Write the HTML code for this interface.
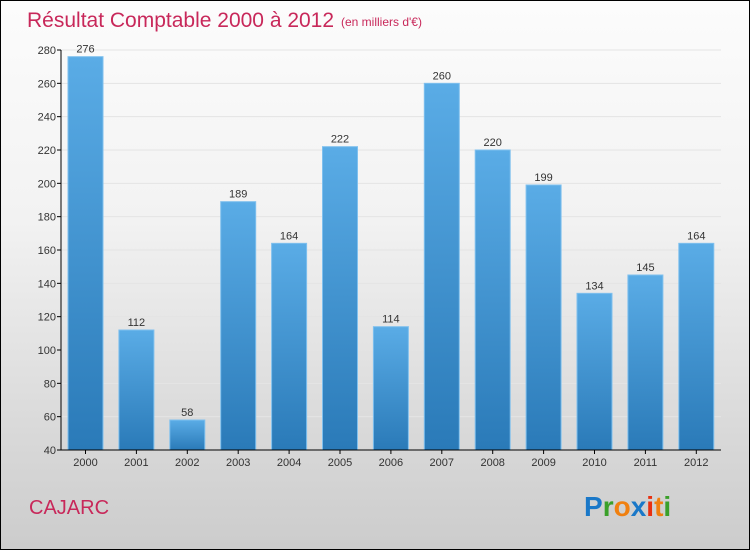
<!DOCTYPE html>
<html><head><meta charset="utf-8"><style>
html,body{margin:0;padding:0}
body{width:750px;height:550px;overflow:hidden;font-family:"Liberation Sans",sans-serif}
#c{position:relative;width:748px;height:548px;border:1px solid #000;background:linear-gradient(#fcfcfc 0%,#f2f2f2 40%,#d8d8d8 80%,#cccccc 100%)}
</style></head><body>
<div id="c">
<svg id="s" width="748" height="548" xmlns="http://www.w3.org/2000/svg">
<defs><linearGradient id="g" x1="0" y1="0" x2="0" y2="1"><stop offset="0" stop-color="#5aace6"/><stop offset="1" stop-color="#2a7ab8"/></linearGradient></defs>
<text x="26" y="26" font-size="21" fill="#c8285a">Résultat Comptable 2000 à 2012</text>
<text x="340" y="25" font-size="12" fill="#c8285a">(en milliers d'€)</text>
<text x="28" y="513" font-size="20" fill="#c8285a">CAJARC</text>
<g font-size="28" font-weight="bold">
<text x="583" y="515"><tspan fill="#1a78c8">P</tspan><tspan fill="#3aa02a">r</tspan><tspan fill="#f08010">o</tspan><tspan fill="#1a78c8">x</tspan><tspan fill="#e83010">i</tspan><tspan fill="#f08010">t</tspan><tspan fill="#3aa02a">i</tspan></text>
</g>
<g id="grid"></g><g id="bars"></g><g id="axes"></g>
</svg></div>
<script>
const years=["2000","2001","2002","2003","2004","2005","2006","2007","2008","2009","2010","2011","2012"];
const values=[276,112,58,189,164,222,114,260,220,199,134,145,164];
const yTicks=[40,60,80,100,120,140,160,180,200,220,240,260,280];
const NS="http://www.w3.org/2000/svg";
const y0=449,y1=49,vmin=40,vmax=280,xL=60,xR=720;
function yS(v){return y0-(v-vmin)/(vmax-vmin)*(y0-y1);}
function xS(i){return 67+i*50.9;}
const bw=35;
function mk(t,a,p){const e=document.createElementNS(NS,t);for(const k in a)e.setAttribute(k,a[k]);p.appendChild(e);return e;}
const grid=document.getElementById('grid'),bars=document.getElementById('bars'),axes=document.getElementById('axes');
yTicks.forEach(v=>{
 const l=mk('line',{x1:xL,x2:xR,y1:yS(v),y2:yS(v),stroke:'#e4e4e4','stroke-width':1},grid);
 
 
 const tk=mk('line',{x1:xL-4,x2:xL,y1:yS(v),y2:yS(v),stroke:'#000'},axes);
 
 
 const t=mk('text',{x:xL-5,y:yS(v)+4,'text-anchor':'end','font-size':11,fill:'#333'},axes);
 t.textContent=v;
 
 
});
values.forEach((v,i)=>{
 const x=xS(i);
 const r=mk('rect',{x:x,y:yS(v),width:bw,height:y0-yS(v),fill:'url(#g)',stroke:'#7fc0ee','stroke-width':1},bars);
 
 
 const t=mk('text',{x:x+bw/2,y:yS(v)-4,'text-anchor':'middle','font-size':11,fill:'#333'},bars);
 t.textContent=v;
 
 
 const tk=mk('line',{x1:x+bw/2,x2:x+bw/2,y1:y0,y2:y0+4,stroke:'#000'},axes);
 
 
 const xl=mk('text',{x:x+bw/2,y:y0+16,'text-anchor':'middle','font-size':11,fill:'#333'},axes);
 xl.textContent=years[i];
 
 
});
const ya=mk('line',{x1:xL,x2:xL,y1:y1,y2:y0,stroke:'#000'},axes);


const xa=mk('line',{x1:xL,x2:xR,y1:y0,y2:y0,stroke:'#000'},axes);


</script>
</body></html>
